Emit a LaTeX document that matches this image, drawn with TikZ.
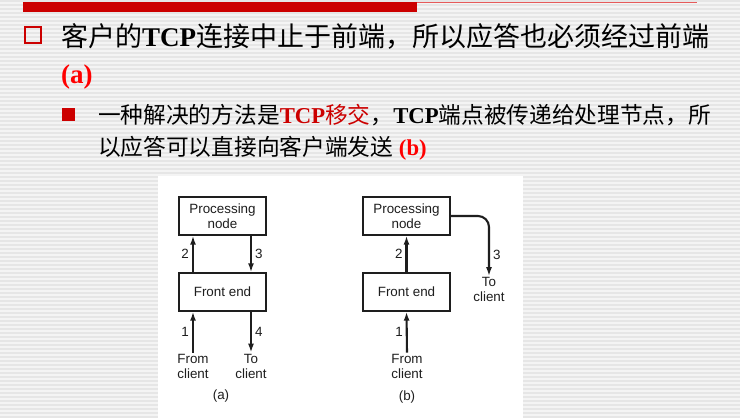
\documentclass[tikz,border=0pt]{standalone}
\usepackage{fontspec}
\setmainfont{Liberation Serif}
\newfontfamily\cjk{Noto Sans CJK SC}
\newfontfamily\figfont{Liberation Sans}
\usetikzlibrary{arrows.meta, positioning}
\definecolor{barred}{RGB}{204,0,0}
\definecolor{linered}{RGB}{230,90,90}
\definecolor{slidebg}{RGB}{244,244,244}
\definecolor{stripe}{RGB}{230,230,230}
\definecolor{ink}{RGB}{30,30,30}
\newcommand{\tcpword}{{\rmfamily\bfseries TCP}}

\begin{document}
\begin{tikzpicture}[x=1pt, y=-1pt,
    box/.style={rectangle, draw=ink, line width=1.4pt, minimum width=87pt, minimum height=38pt, align=center, inner sep=1pt, font=\figfont\fontsize{13.4}{15}\selectfont, text=ink},
    lbl/.style={font=\figfont\fontsize{13.4}{15}\selectfont, text=ink, align=center, inner sep=1pt},
    num/.style={font=\figfont\fontsize{13.4}{15}\selectfont, text=ink, inner sep=3pt},
    arr/.style={-{Latex[length=9pt, width=6pt]}, line width=2.1pt, ink},
]
    % Slide background with faint stripes
    \fill[slidebg] (0,0) rectangle (740,418);
    \foreach \k in {0,4,...,416}
        \fill[stripe] (0,\k) rectangle (740,\k+1.5);
    \fill[white] (158,176) rectangle (523,418);

    % Top rule
    \fill[barred] (23,2) rectangle (417,12);
    \draw[linered, line width=1pt] (417,2.5) -- (697,2.5);

    % Bullet 1: title line
    \node[draw=barred, line width=2pt, minimum size=16pt, inner sep=0pt] (bul1) at (32.5,35) {};
    \node[anchor=base west, inner sep=0pt, font=\fontsize{27}{30}\selectfont] (title) at (61,46)
        {{\cjk 客户的}\tcpword{\cjk 连接中止于前端，所以应答也必须经过前端}};
    \node[anchor=base west, inner sep=0pt, font=\fontsize{27}{30}\selectfont\bfseries, text=red] (titlea) at (61,83) {(a)};

    % Bullet 2: sub line
    \node[fill=barred, minimum size=13pt, inner sep=0pt] (bul2) at (68.5,114.5) {};
    \node[anchor=base west, inner sep=0pt, font=\fontsize{22.7}{30}\selectfont] (sub1) at (98,123.5)
        {{\cjk 一种解决的方法是}\textcolor{barred}{\tcpword{\cjk 移交}}{\cjk ，}\tcpword{\cjk 端点被传递给处理节点，所}};
    \node[anchor=base west, inner sep=0pt, font=\fontsize{22.7}{30}\selectfont] (sub2) at (98,155)
        {{\cjk 以应答可以直接向客户端发送} \textcolor{red}{\bfseries (b)}};

    % Figure (a): reply goes back through the front end
    \node[box] (procA)  at (222.5,216) {Processing\\node};
    \node[box] (frontA) at (222.5,292) {Front end};
    \node[lbl] (fromA)  at (193,366) {From\\client};
    \node[lbl] (toA)    at (251,366) {To\\client};
    \node[lbl] (capA)   at (221,396) {(a)};

    \draw[arr] ([xshift=-29.5pt]frontA.north) -- node[num, left] (n2a) {2} ([xshift=-29.5pt]procA.south);
    \draw[arr] ([xshift=28.5pt]procA.south) -- node[num, right] (n3a) {3} ([xshift=28.5pt]frontA.north);
    \draw[arr] (fromA.north) -- node[num, left] (n1a) {1} (fromA.north |- frontA.south);
    \draw[arr] (toA.north |- frontA.south) -- node[num, right] (n4a) {4} (toA.north);

    % Figure (b): TCP handoff, node answers directly
    \node[box] (procB)  at (406.5,216) {Processing\\node};
    \node[box] (frontB) at (406.5,292) {Front end};
    \node[lbl] (fromB)  at (407,366) {From\\client};
    \node[lbl] (toB)    at (489,289.5) {To\\client};
    \node[lbl] (capB)   at (407,397) {(b)};

    \draw[arr] (frontB) -- node[num, left] (n2b) {2} (procB);
    \draw[arr] (fromB.north) -- node[num, left] (n1b) {1} (frontB.south);
    \draw[arr, rounded corners=11pt] (procB.east) -| node[num, right, pos=0.82] (n3b) {3} (toB.north);
\end{tikzpicture}
\end{document}
